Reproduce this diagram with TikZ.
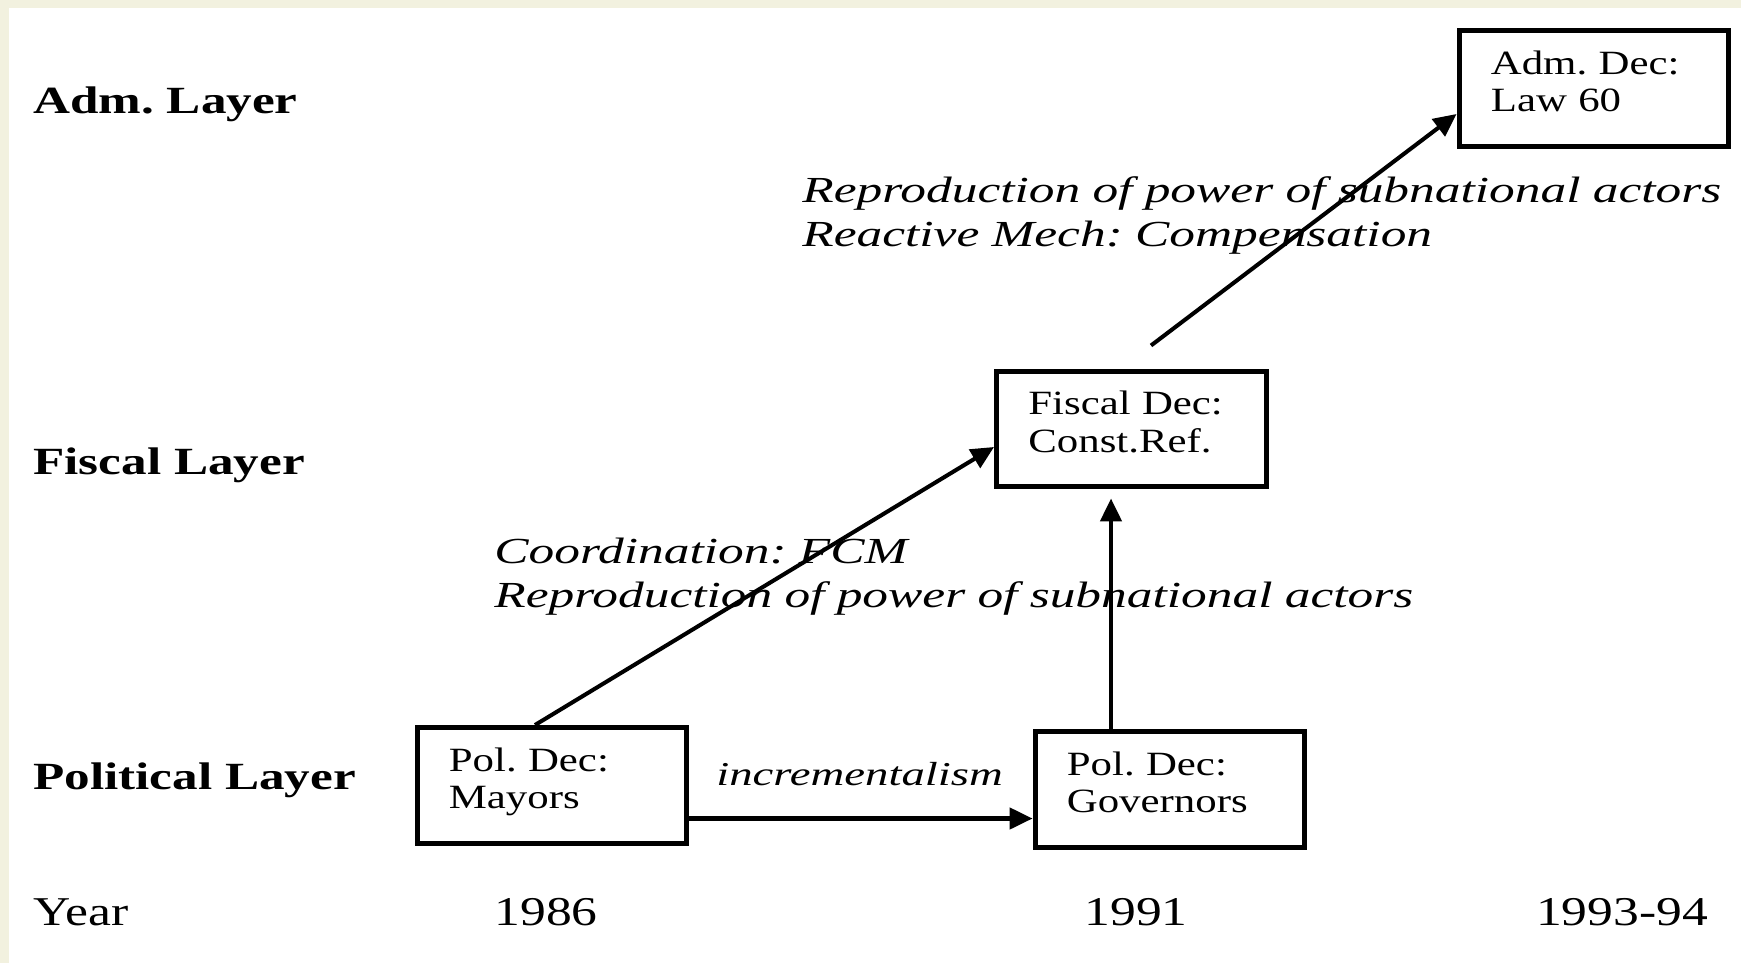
\documentclass[tikz,border=0pt]{standalone}
\usepackage{fontspec}
\setmainfont{Liberation Serif}[FakeStretch=1.26]
\newfontfamily\layerfont{Liberation Serif}[FakeStretch=1.33]
\newfontfamily\mechfont{Liberation Serif}[FakeStretch=1.4]
\usetikzlibrary{arrows.meta}
\definecolor{framecream}{RGB}{242,241,223}
\frenchspacing
\tikzset{
	decbox/.style={draw, line width=2.85pt, minimum width=5.4cm, minimum height=2.32cm, inner sep=0pt},
	dectext/.style={anchor=base west, align=left, text width=4.6cm, inner sep=0pt, font=\fontsize{19.35}{21.4}\selectfont},
	layer/.style={anchor=base west, inner sep=0pt, font=\layerfont\bfseries\fontsize{21.9}{24}\selectfont},
	yearlabel/.style={anchor=base, inner sep=0pt, font=\fontsize{23.3}{26}\selectfont},
	mech/.style={anchor=base west, align=left, text width=24cm, inner sep=0pt, font=\mechfont\itshape\fontsize{20.9}{25.3}\selectfont},
	link/.style={-{Triangle[length=13pt, width=12pt]}, line width=2.3pt}
}

\begin{document}
\begin{tikzpicture}[x=0.02cm, y=-0.02cm]
	\fill[framecream] (0,0) rectangle (1741,963);
	\fill[white] (9,8) rectangle (1741,963);
	\useasboundingbox (0,0) rectangle (1741,963);

	\node[layer] (admlayer) at (33,113) {Adm. Layer};
	\node[layer] (fisclayer) at (33,474) {Fiscal Layer};
	\node[layer] (pollayer) at (33,789) {Political Layer};
	\node[yearlabel, anchor=base west] (year) at (33,925) {Year};
	\node[yearlabel] (y86) at (546,925) {1986};
	\node[yearlabel] (y91) at (1136,925) {1991};
	\node[yearlabel] (y93) at (1622,925) {1993-94};

	\node[decbox] (adm) at (1594,88.5) {};
	\node[decbox] (fiscal) at (1131.5,429) {};
	\node[decbox] (mayors) at (552,785.5) {};
	\node[decbox] (govern) at (1170,789.5) {};
	\node[dectext] (admtext) at ([shift={(34,46)}]adm.north west) {Adm. Dec:\\Law 60};
	\node[dectext] (fisctext) at ([shift={(34,46)}]fiscal.north west) {Fiscal Dec:\\Const.Ref.};
	\node[dectext] (maytext) at ([shift={(34,46)}]mayors.north west) {Pol. Dec:\\Mayors};
	\node[dectext] (govtext) at ([shift={(34,46)}]govern.north west) {Pol. Dec:\\Governors};

	\node[mech] (reactive) at (802,202) {Reproduction of power of subnational actors\\Reactive Mech: Compensation};
	\node[mech] (coord) at (494,563) {Coordination: FCM\\Reproduction of power of subnational actors};
	\node[mech, text width=8cm, font=\mechfont\itshape\fontsize{19}{21}\selectfont] (incr) at (716,785) {incrementalism};

	\draw[link] ([shift={(-17,0)}]mayors.north) -- ([shift={(0,18)}]fiscal.west);
	\draw[link] ([shift={(-59,0)}]govern.north) -- ([shift={(-20.5,9)}]fiscal.south);
	\draw[link] ([shift={(19.5,-23)}]fiscal.north) -- ([shift={(0,25.5)}]adm.west);
	\draw[link] ([shift={(0,33)}]mayors.east) -- ([shift={(0,33)}]mayors.east -| govern.west);
\end{tikzpicture}
\end{document}
